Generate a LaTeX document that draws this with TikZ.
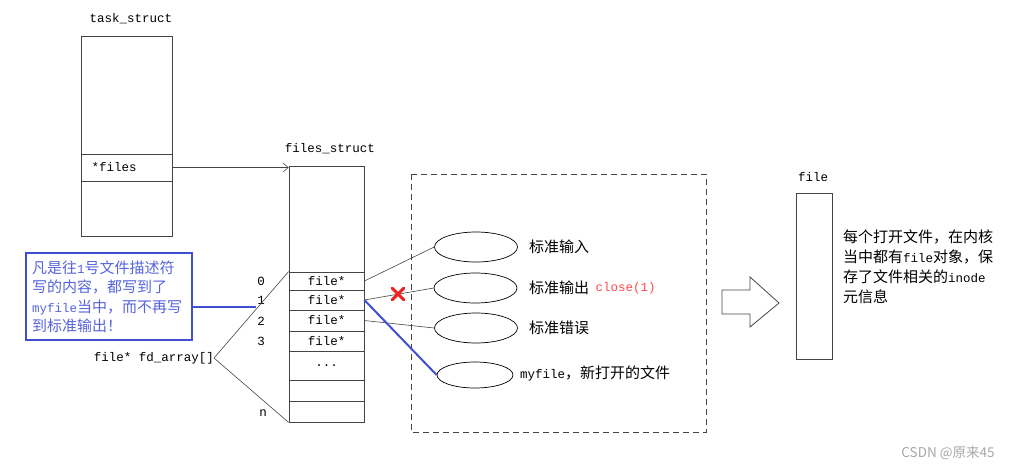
\documentclass[tikz,border=0pt]{standalone}
\usepackage{fontspec}
\setmainfont{Liberation Mono}
\newfontfamily\cjk[Scale=1.2]{Noto Sans CJK SC}
\newfontfamily\wmfont{Noto Sans CJK SC}
\usepackage{tikz}
\usetikzlibrary{arrows.meta,shapes.geometric}
\definecolor{noteblue}{HTML}{3F4FD0}
\definecolor{notetext}{HTML}{5563DD}
\definecolor{closered}{HTML}{FF4A4A}
\definecolor{xred}{HTML}{EE2222}
\definecolor{edge}{HTML}{444444}
\tikzset{
  txt/.style={font=\fontsize{12.5}{20}\selectfont, inner sep=0pt},
  cell/.style={txt, draw=edge, line width=0.8pt, minimum width=75pt},
  tbox/.style={txt, draw=edge, line width=0.8pt, minimum width=91pt},
  fd/.style={ellipse, draw=black, line width=0.7pt, minimum width=83pt, minimum height=30pt, inner sep=0pt},
  link/.style={draw=edge, line width=0.6pt},
  bluelink/.style={draw=noteblue, line width=2pt},
  note/.style={txt, draw=noteblue, line width=2.4pt, text=notetext, minimum width=166pt,
    minimum height=87pt, text width=154pt, inner sep=6pt, align=left, font=\fontsize{12.5}{19.5}\selectfont},
  xstroke/.style={draw=xred, line width=3pt, line cap=round}
}
\begin{document}
\begin{tikzpicture}[x=1pt,y=-1pt]
    \useasboundingbox (0,0) rectangle (1011,469);
    \node[txt] (tlabel) at (131,19) {task\_struct};
    \node[tbox, minimum height=118pt] (ttop) at (126.5,95) {};
    \node[tbox, minimum height=27pt, text width=70pt, align=left] (tfiles) at (126.5,167.5) {*files};
    \node[tbox, minimum height=55pt] (tbot) at (126.5,208.5) {};

    \node[txt] (flabel) at (330,149) {files\_struct};
    \node[cell, minimum height=106pt] (ftop) at (326.5,219) {};
    \node[cell, minimum height=18pt] (c0) at (326.5,281) {file*};
    \node[cell, minimum height=20pt] (c1) at (326.5,300) {file*};
    \node[cell, minimum height=21pt] (c2) at (326.5,320.5) {file*};
    \node[cell, minimum height=20pt] (c3) at (326.5,341) {file*};
    \node[cell, minimum height=29pt] (cdots) at (326.5,365.5) {...};
    \node[cell, minimum height=21pt] (cblank) at (326.5,390.5) {};
    \node[cell, minimum height=21pt] (cn) at (326.5,411.5) {};
    \draw[link, -{Straight Barb[length=5pt,width=9pt]}] (tfiles.east) -- (ftop.west |- tfiles.east);

    \foreach \i/\y in {0/281,1/300,2/321,3/341}
        \node[txt] (i\i) at (261,\y) {\i};
    \node[txt] (in) at (263,413) {n};

    \node[txt, anchor=east] (fda) at (214,358) {file* fd\_array[]};
    \draw[link] (fda.east) -- (c0.north west);
    \draw[link] (fda.east) -- (cn.south west);

    \node[note] (note) at (109,296.5) {{\cjk 凡是往}1{\cjk 号文件描述符}\\{\cjk 写的内容，都写到了}\\myfile{\cjk 当中，而不再写}\\{\cjk 到标准输出！}};
    \coordinate (p1) at (256,307);
    \draw[bluelink] (note.east |- p1) -- (p1);

    \draw[edge, line width=0.8pt, dash pattern=on 6pt off 4pt] (411,174) rectangle (706,432);

    \node[fd] (e0) at (476,247) {};
    \node[fd] (e1) at (475.5,288) {};
    \node[fd] (e2) at (476,328) {};
    \node[fd, minimum width=76pt, minimum height=26pt] (e3) at (475,375) {};

    \node[txt, anchor=west] (l0) at (529,247) {\cjk 标准输入};
    \node[txt, anchor=west] (l1) at (529,288) {\cjk 标准输出};
    \node[txt, anchor=west, text=closered] (cl) at ([xshift=6pt]l1.east) {close(1)};
    \node[txt, anchor=west] (l2) at (529,328) {\cjk 标准错误};
    \node[txt, anchor=west] (l3) at (520,373) {myfile{\cjk ，新打开的文件}};

    \draw[link] (c0.east) -- (e0.west);
    \draw[link] (c1.east) -- (e1.west);
    \draw[link] (c2.east) -- (e2.west);
    \draw[bluelink] (c1.east) -- (e3.west);

    \node[minimum size=11pt, inner sep=0pt] (xm) at (398,294) {};
    \draw[xstroke] (xm.north west) -- (xm.south east) (xm.north east) -- (xm.south west);

    \draw[edge, line width=0.8pt] (722,290) -- (750,290) -- (750,277) -- (779,303)
        -- (750,327) -- (750,314) -- (722,314) -- cycle;

    \node[txt] (flab) at (813,177) {file};
    \node[draw=edge, line width=0.8pt, minimum width=36pt, minimum height=166pt, inner sep=0pt] (fbox) at (814,276) {};
    \node[txt, anchor=north west, align=left] (info) at (843,230)
        {{\cjk 每个打开文件，在内核}\\{\cjk 当中都有}file{\cjk 对象，保}\\{\cjk 存了文件相关的}inode\\{\cjk 元信息}};

    \node[font=\wmfont\fontsize{13.5}{13.5}\selectfont, text=black!35, inner sep=0pt] (wm) at (948,453) {CSDN @原来45};
\end{tikzpicture}
\end{document}
